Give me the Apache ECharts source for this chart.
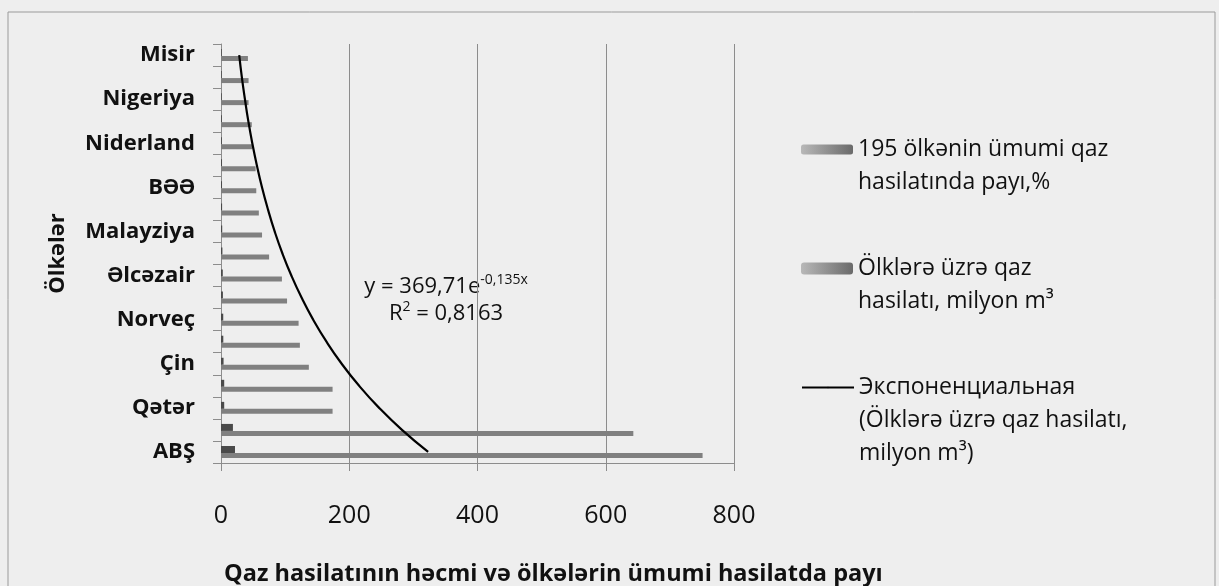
<!DOCTYPE html>
<html>
<head>
<meta charset="utf-8">
<script src="https://cdn.jsdelivr.net/npm/echarts@6/dist/echarts.min.js"></script>
<style>
    html, body { margin: 0; padding: 0; background: #eeeeee; }
    #chartView { width: 1219px; height: 586px; }
</style>
</head>
<body>
<div id="chartView"></div>
<script>
    // ölkələr, aşağıdan yuxarı (yalnız hər ikinci ad görünür)
    var countries = ['ABŞ', 'Rusiya', 'Qətər', 'İran', 'Çin', 'Kanada', 'Norveç', 'Səudiyyə Ərəbistanı',
        'Əlcəzair', 'Türkmənistan', 'Malayziya', 'İndoneziya', 'BƏƏ', 'Özbəkistan', 'Niderland',
        'Avstraliya', 'Nigeriya', 'Meksika', 'Misir'];
    // 195 ölkənin ümumi qaz hasilatında payı, %
    var shareValues = [21.8, 18.6, 5.0, 5.0, 4.0, 3.6, 3.5, 3.0, 2.8, 2.2, 1.9, 1.7, 1.6, 1.6, 1.4, 1.4, 1.2, 1.2, 1.2];
    // ölkələr üzrə qaz hasilatı, milyon m3
    var gasValues = [751, 643, 174, 174, 137, 123, 121, 103, 95, 75, 64, 59, 55, 54, 49, 48, 43, 43, 42];
    // eksponensial trend xətti (y = 369,71e^-0,135x)
    var trendValues = [323.0, 282.2, 246.6, 215.4, 188.2, 164.5, 143.7, 125.6, 109.7, 95.8,
        83.7, 73.2, 63.9, 55.9, 48.8, 42.6, 37.3, 32.5, 28.4];
    var xTicks = {min: 0, max: 800, step: 200};

    var seriesNames = [
        '195 ölkənin ümumi qaz hasilatında payı,%',
        'Ölklərə üzrə qaz hasilatı, milyon m³',
        'Экспоненциальная (Ölklərə üzrə qaz hasilatı, milyon m³)'
    ];
    // boş sətirlər ikonu birinci sətirlə bir xəttə gətirir
    var legendLines = {};
    legendLines[seriesNames[0]] = '\n195 ölkənin ümumi qaz\nhasilatında payı,%';
    legendLines[seriesNames[1]] = '\nÖlklərə üzrə qaz\nhasilatı, milyon m³';
    legendLines[seriesNames[2]] = '\n\nЭкспоненциальная\n(Ölklərə üzrə qaz hasilatı,\nmilyon m³)';

    var theFont = "'Open Sans', sans-serif";
    var axisColor = '#8c8c8c';
    var swatch = {
        type: 'linear', x: 0, y: 0, x2: 1, y2: 0,
        colorStops: [{offset: 0, color: '#b8b8b8'}, {offset: 1, color: '#6a6a6a'}]
    };

    function legendFor(idx, top, iconH, isLine) {
        return {
            data: [seriesNames[idx]],
            left: 796,
            top: top,
            itemWidth: 52,
            itemHeight: iconH,
            selectedMode: false,
            itemStyle: isLine ? {} : {color: swatch},
            formatter: function (name) {
                return legendLines[name];
            },
            textStyle: {
                fontFamily: theFont,
                fontSize: 23,
                color: '#111',
                lineHeight: 33
            }
        };
    }

    var chartView = echarts.init(document.getElementById('chartView'));
    var option = {
        backgroundColor: '#eeeeee',
        animation: false,
        textStyle: {fontFamily: theFont},
        title: {
            text: 'Qaz hasilatının həcmi və ölkələrin ümumi hasilatda payı',
            left: 224,
            top: 562,
            padding: 0,
            textStyle: {fontFamily: theFont, fontSize: 23.5, fontWeight: 'bold', color: '#111'}
        },
        legend: [
            legendFor(0, 95, 10, false),
            legendFor(1, 214, 12, false),
            legendFor(2, 300, 2, true)
        ],
        grid: {left: 221, right: 485, top: 44, bottom: 123, containLabel: false},
        xAxis: {
            type: 'value',
            min: xTicks.min,
            max: xTicks.max,
            interval: xTicks.step,
            axisLine: {show: true, lineStyle: {color: axisColor}},
            axisTick: {show: true, length: 8, lineStyle: {color: axisColor}},
            splitLine: {show: true, lineStyle: {color: axisColor, width: 1}},
            axisLabel: {fontSize: 25, color: '#111', margin: 40, fontFamily: theFont}
        },
        yAxis: {
            type: 'category',
            data: countries,
            name: 'Ölkələr',
            nameLocation: 'middle',
            nameRotate: 90,
            nameGap: 152,
            nameTextStyle: {fontSize: 22, fontWeight: 'bold', color: '#111', fontFamily: theFont},
            axisLine: {show: true, lineStyle: {color: axisColor}},
            axisTick: {show: true, interval: 0, length: 8, lineStyle: {color: axisColor}},
            axisLabel: {interval: 1, fontSize: 22, fontWeight: 'bold', color: '#111', margin: 26, fontFamily: theFont}
        },
        series: [
            {
                name: seriesNames[0],
                type: 'bar',
                data: shareValues,
                barWidth: 7,
                barGap: '0%',
                itemStyle: {color: '#4a4a4a'}
            },
            {
                name: seriesNames[1],
                type: 'bar',
                data: gasValues,
                barWidth: 5,
                itemStyle: {color: '#808080'}
            },
            {
                name: seriesNames[2],
                type: 'line',
                data: trendValues,
                smooth: true,
                symbol: 'none',
                z: 5,
                itemStyle: {color: '#000'},
                lineStyle: {color: '#000', width: 2.2}
            }
        ],
        graphic: [
            {
                type: 'rect',
                shape: {x: 8, y: 12, width: 1207, height: 600},
                style: {fill: 'none', stroke: '#9a9a9a', lineWidth: 1},
                silent: true
            },
            {
                type: 'text',
                x: 446,
                y: 300,
                style: {
                    text: '{b|y = 369,71e}{s|-0,135x}\n{b|R}{s|2}{b| = 0,8163}',
                    textAlign: 'center',
                    textVerticalAlign: 'middle',
                    fill: '#111',
                    rich: {
                        b: {fontFamily: theFont, fontSize: 22, lineHeight: 27, fill: '#111'},
                        s: {fontFamily: theFont, fontSize: 14, lineHeight: 14, verticalAlign: 'top', fill: '#111'}
                    }
                }
            }
        ]
    };
    chartView.setOption(option);
</script>
</body>
</html>
